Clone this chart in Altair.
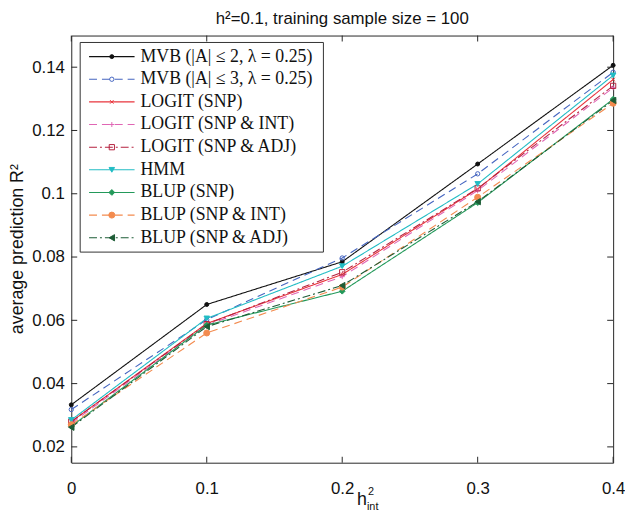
import altair as alt
import pandas as pd

# ---------------- data ----------------
x_vals = [0.0, 0.1, 0.2, 0.3, 0.4]
series_names = [
    "MVB (|A| ≤ 2, λ = 0.25)",
    "MVB (|A| ≤ 3, λ = 0.25)",
    "LOGIT (SNP)",
    "LOGIT (SNP & INT)",
    "LOGIT (SNP & ADJ)",
    "HMM",
    "BLUP (SNP)",
    "BLUP (SNP & INT)",
    "BLUP (SNP & ADJ)",
]
mvb2 = [0.0333, 0.0650, 0.0785, 0.1094, 0.1406]
mvb3 = [0.0318, 0.0602, 0.0797, 0.1063, 0.1384]
logit_snp = [0.0280, 0.0590, 0.0745, 0.1015, 0.1361]
logit_int = [0.0275, 0.0585, 0.0738, 0.1010, 0.1335]
logit_adj = [0.0280, 0.0588, 0.0752, 0.1017, 0.1341]
hmm = [0.0285, 0.0606, 0.0771, 0.1031, 0.1374]
blup_snp = [0.0265, 0.0585, 0.0692, 0.0972, 0.1299]
blup_int = [0.0270, 0.0560, 0.0705, 0.0989, 0.1286]
blup_adj = [0.0262, 0.0580, 0.0710, 0.0975, 0.1295]
all_series = [mvb2, mvb3, logit_snp, logit_int, logit_adj, hmm, blup_snp, blup_int, blup_adj]

x_ticks = [0.0, 0.1, 0.2, 0.3, 0.4]
y_ticks = [0.02, 0.04, 0.06, 0.08, 0.10, 0.12, 0.14]

chart_title = "h²=0.1, training sample size = 100"
y_title = "average prediction R²"

# ---------------- styles ----------------
X_PATH = "M-0.75,-0.75L0.75,0.75M0.75,-0.75L-0.75,0.75"
PLUS_PATH = "M-1,0L1,0M0,-1L0,1"
colors = ["#111111", "#4565c0", "#e8343c", "#e066b4", "#b5213f",
          "#22bcc4", "#23995a", "#f38b4f", "#1d5c36"]
dashes = [[1, 0], [8, 5], [1, 0], [8, 5], [8, 3, 2, 3],
          [1, 0], [1, 0], [8, 5], [8, 3, 2, 3]]
shapes = ["circle", "circle", X_PATH, PLUS_PATH, "square",
          "triangle-down", "diamond", "circle", "triangle-left"]
fills = [colors[0], "transparent", "transparent", "transparent", "transparent",
         colors[5], colors[6], colors[7], colors[8]]
sizes = [16, 40, 34, 44, 34, 34, 34, 30, 34]

rows = []
for name, vals in zip(series_names, all_series):
    for xv, yv in zip(x_vals, vals):
        rows.append({"series": name, "x": xv, "y": yv})
df = pd.DataFrame(rows)

stroke_scale = alt.Scale(domain=series_names, range=colors)
dash_scale = alt.Scale(domain=series_names, range=dashes)
shape_scale = alt.Scale(domain=series_names, range=shapes)
fill_scale = alt.Scale(domain=series_names, range=fills)
size_scale = alt.Scale(domain=series_names, range=sizes)

W, H = 548, 432

x_axis = alt.Axis(values=x_ticks, format=".1~f", title=None, labelFlush=False,
                  labelPadding=18, labelOverlap=False)
y_axis = alt.Axis(values=y_ticks, format=".2~f", title=None, labelPadding=7,
                  labelOverlap=False)
x_scale = alt.Scale(domain=[0, 0.4], nice=False, zero=False)
y_scale = alt.Scale(domain=[0.015, 0.15], nice=False, zero=False)
x_enc = alt.X("x:Q", scale=x_scale, axis=x_axis)
y_enc = alt.Y("y:Q", scale=y_scale, axis=y_axis)

base = alt.Chart(df)
lines = base.mark_line(strokeWidth=1.1).encode(
    x=x_enc, y=y_enc,
    stroke=alt.Stroke("series:N", scale=stroke_scale, legend=None),
    strokeDash=alt.StrokeDash("series:N", scale=dash_scale, legend=None),
    order="x:Q",
)
points = base.mark_point(strokeWidth=1, opacity=1).encode(
    x=x_enc, y=y_enc,
    shape=alt.Shape("series:N", scale=shape_scale, legend=None),
    stroke=alt.Stroke("series:N", scale=stroke_scale, legend=None),
    fill=alt.Fill("series:N", scale=fill_scale, legend=None),
    size=alt.Size("series:N", scale=size_scale, legend=None),
)

# inward ticks (MATLAB style) on all four sides
xt = alt.Chart(pd.DataFrame({"x": x_ticks}))
yt = alt.Chart(pd.DataFrame({"y": y_ticks}))
tick_col = "#262626"
xt_bottom = xt.mark_rule(stroke=tick_col).encode(x=x_enc, y=alt.value(H), y2=alt.value(H - 6))
xt_top = xt.mark_rule(stroke=tick_col).encode(x=x_enc, y=alt.value(0), y2=alt.value(6))
yt_left = yt.mark_rule(stroke=tick_col).encode(y=y_enc, x=alt.value(0), x2=alt.value(6))
yt_right = yt.mark_rule(stroke=tick_col).encode(y=y_enc, x=alt.value(W), x2=alt.value(W - 6))

# legend box
leg_df = pd.DataFrame({"series": series_names, "idx": list(range(len(series_names)))})
one = alt.Chart(pd.DataFrame({"a": [0]}))
leg_box = one.mark_rect(fill="white", stroke="#333333", strokeWidth=1).encode(
    x=alt.value(9), x2=alt.value(255), y=alt.value(7), y2=alt.value(219))
leg = alt.Chart(leg_df).transform_calculate(py="21.3 + datum.idx * 22.9")
leg_y = alt.Y("py:Q", scale=None, axis=None)
leg_lines = leg.mark_rule(strokeWidth=1.1).encode(
    x=alt.value(18), x2=alt.value(64), y=leg_y,
    stroke=alt.Stroke("series:N", scale=stroke_scale, legend=None),
    strokeDash=alt.StrokeDash("series:N", scale=dash_scale, legend=None),
)
leg_pts = leg.mark_point(strokeWidth=1, opacity=1).encode(
    x=alt.value(41), y=leg_y,
    shape=alt.Shape("series:N", scale=shape_scale, legend=None),
    stroke=alt.Stroke("series:N", scale=stroke_scale, legend=None),
    fill=alt.Fill("series:N", scale=fill_scale, legend=None),
    size=alt.Size("series:N", scale=size_scale, legend=None),
)
leg_text = leg.mark_text(align="left", baseline="middle", font="Liberation Serif",
                         fontSize=18, color="#111").encode(
    x=alt.value(70), y=leg_y, text="series:N")

# titles as text marks
t_title = one.mark_text(text=chart_title, font="Liberation Sans", fontSize=17, align="center",
                        baseline="alphabetic", color="#111").encode(x=alt.value(W / 2), y=alt.value(-12))
t_y = one.mark_text(text=y_title, font="Liberation Sans", fontSize=18, align="center",
                    baseline="middle", angle=270, color="#111").encode(x=alt.value(-54), y=alt.value(H / 2))
t_h = one.mark_text(text="h", font="Liberation Sans", fontSize=18, align="left",
                    baseline="alphabetic", color="#111").encode(x=alt.value(289), y=alt.value(475))
t_2 = one.mark_text(text="2", font="Liberation Sans", fontSize=11, align="left",
                    baseline="alphabetic", color="#111").encode(x=alt.value(300), y=alt.value(465))
t_int = one.mark_text(text="int", font="Liberation Sans", fontSize=11, align="left",
                      baseline="alphabetic", color="#111").encode(x=alt.value(299), y=alt.value(480))

chart = alt.layer(
    lines, points, xt_bottom, xt_top, yt_left, yt_right,
    leg_box, leg_lines, leg_pts, leg_text, t_title, t_y, t_h, t_2, t_int,
).properties(
    width=W, height=H,
    autosize=alt.AutoSizeParams(type="none"),
    padding={"left": 64, "top": 25, "right": 12, "bottom": 48},
    background="white",
).configure_view(
    stroke="#262626", strokeWidth=1
).configure_axis(
    domain=False, grid=False, ticks=False,
    labelFont="Liberation Sans", labelFontSize=17, labelColor="#111",
)

chart.save("out.html", embed_options={"renderer": "svg", "actions": False})
